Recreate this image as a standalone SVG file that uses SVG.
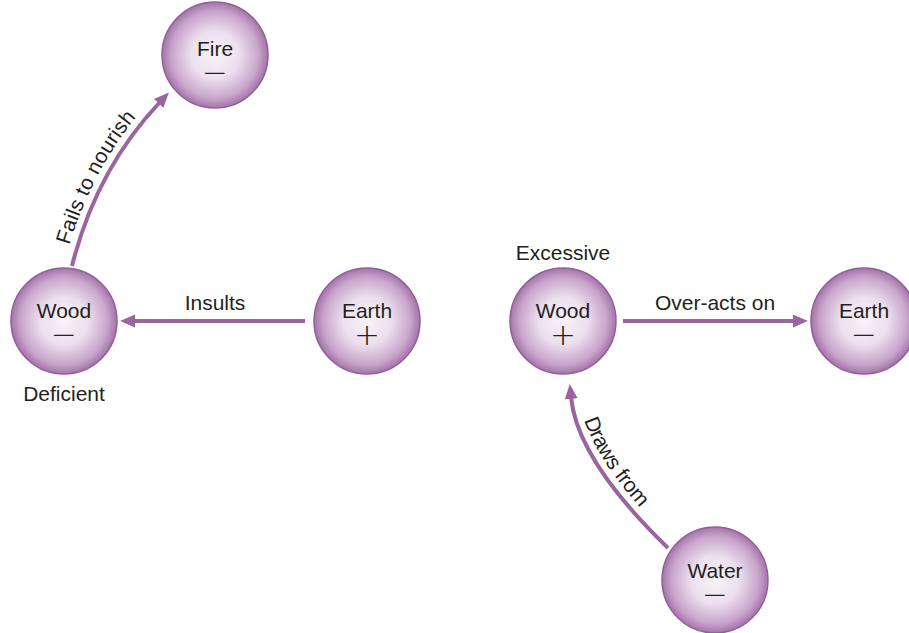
<svg xmlns="http://www.w3.org/2000/svg" width="909" height="633" viewBox="0 0 909 633">
<defs>
<radialGradient id="ball" cx="50%" cy="50%" r="50%">
<stop offset="0%" stop-color="#f8f3f9"/>
<stop offset="45%" stop-color="#ecdfee"/>
<stop offset="82%" stop-color="#c9a5cc"/>
<stop offset="100%" stop-color="#a474a9"/>
</radialGradient>
<marker id="ah" markerWidth="16" markerHeight="14" refX="2" refY="6.5" orient="auto" markerUnits="userSpaceOnUse">
<path d="M0,0 L15,6.5 L0,13 z" fill="#9a659e"/>
</marker>
<path id="p1" d="M72,266 Q96,170 160,102"/>
<path id="p2" d="M571,397 Q577,460 668,548"/>
</defs>
<style>
.c{fill:url(#ball);stroke:#935f98;stroke-width:1.5}
.t{font-family:"Liberation Sans",Arial,sans-serif;font-size:21px;fill:#231f20}
.m{text-anchor:middle}
.s{font-family:"DejaVu Sans","Liberation Sans",sans-serif;font-size:31px;font-weight:300;fill:#231f20;text-anchor:middle}
.a{fill:none;stroke:#9a659e;stroke-width:4}
</style>
<g id="connectors">
<path class="a" d="M72,266 Q96,170 160,102" marker-end="url(#ah)"/>
<path class="a" d="M305,321 L133,321" marker-end="url(#ah)"/>
<path class="a" d="M623,321 L795,321" marker-end="url(#ah)"/>
<path class="a" d="M668,548 Q577,460 571,397" marker-end="url(#ah)"/>
<text class="t m" dy="-8"><textPath href="#p1" startOffset="48%">Fails to nourish</textPath></text>
<text class="t m" dy="-8"><textPath href="#p2" startOffset="44%">Draws from</textPath></text>
<text class="t m" x="215" y="310">Insults</text>
<text class="t m" x="715" y="310">Over-acts on</text>
</g>
<g id="fire">
<circle class="c" cx="215" cy="55" r="53"/>
<text class="t m" x="215" y="56">Fire</text>
<text class="s" x="215" y="83">−</text>
</g>
<g id="wood-deficient">
<circle class="c" cx="64" cy="321" r="53"/>
<text class="t m" x="64" y="318">Wood</text>
<text class="s" x="64" y="345">−</text>
<text class="t m" x="64" y="401">Deficient</text>
</g>
<g id="earth-plus">
<circle class="c" cx="367" cy="321" r="53"/>
<text class="t m" x="367" y="318">Earth</text>
<text class="s" x="367" y="345">+</text>
</g>
<g id="wood-excessive">
<circle class="c" cx="563" cy="321" r="53"/>
<text class="t m" x="563" y="318">Wood</text>
<text class="s" x="563" y="345">+</text>
<text class="t m" x="563" y="260">Excessive</text>
</g>
<g id="earth-minus">
<circle class="c" cx="864" cy="321" r="53"/>
<text class="t m" x="864" y="318">Earth</text>
<text class="s" x="864" y="345">−</text>
</g>
<g id="water">
<circle class="c" cx="715" cy="580" r="53"/>
<text class="t m" x="715" y="578">Water</text>
<text class="s" x="715" y="605">−</text>
</g>
</svg>
